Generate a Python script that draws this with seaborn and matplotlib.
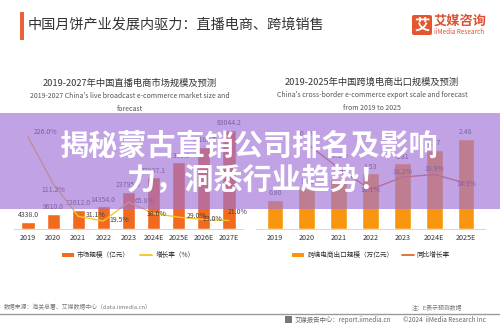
import numpy as np
import pandas as pd
import matplotlib
matplotlib.use("Agg")
import matplotlib.pyplot as plt
import seaborn as sns
from matplotlib.patches import Rectangle, FancyBboxPatch, Patch
from matplotlib.lines import Line2D

sns.set_theme(style="white")
plt.rcParams['font.family'] = ['Noto Sans CJK SC', 'DejaVu Sans']

# ---------------- data ----------------
live_years = ["2019", "2020", "2021", "2022", "2023", "2024E", "2025E", "2026E", "2027E"]
live_size = [4338.0, 9610.0, 12012.0, 14354.0, 23795.0, 32837.1, 42359.9, 52102.7, 63044.2]
live_growth = [226.0, 111.2, 31.1, 19.5, 65.8, 38.0, 29.0, 23.0, 21.0]

cb_years = ["2019", "2020", "2021", "2022", "2023", "2024E", "2025E"]
cb_size = [0.80, 1.12, 1.39, 1.53, 1.81, 2.17, 2.48]
cb_growth = [np.nan, 40.1, 24.1, 10.1, 18.2, 19.9, 14.3]

header_title = "中国月饼产业发展内驱力：直播电商、跨境销售"
left_title = "2019-2027年中国直播电商市场规模及预测"
left_sub = ["2019-2027 China's live broadcast e-commerce market size and", "forecast"]
right_title = "2019-2025年中国跨境电商出口规模及预测"
right_sub = ["China's cross-border e-commerce export scale and forecast", "from 2019 to 2025"]
left_legend = ["市场规模（亿元）", "增长率（%）"]
right_legend = ["跨境电商出口规模（万亿元）", "同比增长率"]
banner = ["揭秘蒙古直销公司排名及影响", "力，洞悉行业趋势！"]

# ---------------- styles ----------------
W, H = 500, 325
LEFT_BAR = "#F26A1E"
LEFT_LINE = "#F6C52A"
RIGHT_BAR = "#F8970F"
RIGHT_LINE = "#DD6A2C"
TXT = "#333333"

def fx(px):
    return px / W

def fy(py):
    return 1 - py / H

fig = plt.figure(figsize=(5, 3.25), dpi=100)
fig.patch.set_facecolor("white")

def style_axis(ax):
    for s in ["top", "right", "left"]:
        ax.spines[s].set_visible(False)
    ax.spines["bottom"].set_color("#D6D6D6")
    ax.spines["bottom"].set_linewidth(0.7)
    ax.set_yticks([])
    ax.set_xlabel("")
    ax.set_ylabel("")
    ax.tick_params(axis="x", length=0, pad=3.5, labelsize=5.2, labelcolor=TXT)
    ax.set_facecolor("none")

# ---------------- left chart ----------------
sp = 25.125
ax1 = fig.add_axes([fx(28 - 0.55 * sp), fy(229), fx(8 * sp + 1.1 * sp), 110 / H])
df1 = pd.DataFrame({"year": live_years, "size": live_size, "growth": live_growth})
sns.barplot(data=df1, x="year", y="size", color=LEFT_BAR, width=0.52, ax=ax1,
            saturation=1, zorder=2)
ax1.set_ylim(0, 70000)
ax1.set_xlim(-0.55, 8.55)
style_axis(ax1)
for c in ax1.containers:
    ax1.bar_label(c, labels=[f"{v:.1f}" for v in live_size], padding=2,
                  fontsize=5, color="#444444")

ax1b = ax1.twinx()
sns.lineplot(x=np.arange(len(live_years)), y=live_growth, ax=ax1b, color=LEFT_LINE,
             linewidth=1.0, zorder=3)
ax1b.set_ylim(0, 270)
ax1b.set_xlim(-0.55, 8.55)
for s in ax1b.spines.values():
    s.set_visible(False)
ax1b.set_yticks([])
left_offsets = [(18, 5), (0, -6), (17, 1), (16, 1), (16, 1), (3, 0), (18, 1), (9, 1), (9, 8)]
for i, (v, (dx, dy)) in enumerate(zip(live_growth, left_offsets)):
    ax1b.annotate(f"{v:.1f}%", (i, v), xytext=(dx * 0.72, dy * 0.72), textcoords="offset points",
                  ha="center", va="center", fontsize=5, color="#444444")

# ---------------- right chart ----------------
sp2 = 31.83
ax2 = fig.add_axes([fx(275 - 0.6 * sp2), fy(229), fx(6 * sp2 + 1.2 * sp2), 101.6 / H])
df2 = pd.DataFrame({"year": cb_years, "size": cb_size, "growth": cb_growth})
sns.barplot(data=df2, x="year", y="size", color=RIGHT_BAR, width=0.53, ax=ax2,
            saturation=1, zorder=2)
ax2.set_ylim(0, 2.8)
ax2.set_xlim(-0.6, 6.6)
style_axis(ax2)
for c in ax2.containers:
    ax2.bar_label(c, labels=[f"{v:.2f}" for v in cb_size], padding=2,
                  fontsize=5, color="#444444")

ax2b = ax2.twinx()
sns.lineplot(x=np.arange(len(cb_years)), y=cb_growth, ax=ax2b, color=RIGHT_LINE,
             linewidth=1.0, zorder=3)
ax2b.set_ylim(-15.7, 50.7)
ax2b.set_xlim(-0.6, 6.6)
for s in ax2b.spines.values():
    s.set_visible(False)
ax2b.set_yticks([])
right_offsets = [(0, 0), (0, 10), (0, 12), (0, 0), (0, 5), (0, 6), (0, -1)]
for i, (v, (dx, dy)) in enumerate(zip(cb_growth, right_offsets)):
    if np.isnan(v):
        continue
    ax2b.annotate(f"{v:.1f}%", (i, v), xytext=(dx * 0.72, dy * 0.72), textcoords="offset points",
                  ha="center", va="center", fontsize=5, color="#444444")

# ---------------- legends ----------------
h1 = [Patch(facecolor=LEFT_BAR, edgecolor="none"), Line2D([0], [0], color=LEFT_LINE, lw=1.3)]
fig.legend(h1, left_legend, loc="center", bbox_to_anchor=(fx(128), fy(255)), ncol=2,
           frameon=False, fontsize=4.8, handlelength=1.8, handleheight=0.6,
           handletextpad=0.5, columnspacing=1.5, labelcolor=TXT)
h2 = [Patch(facecolor=RIGHT_BAR, edgecolor="none"), Line2D([0], [0], color=RIGHT_LINE, lw=1.3)]
fig.legend(h2, right_legend, loc="center", bbox_to_anchor=(fx(371), fy(255)), ncol=2,
           frameon=False, fontsize=4.8, handlelength=1.8, handleheight=0.6,
           handletextpad=0.5, columnspacing=1.2, labelcolor=TXT)

# ---------------- titles ----------------
fig.add_artist(Rectangle((fx(20), fy(40)), fx(3.5), 28 / H, transform=fig.transFigure,
                         facecolor="#E8633B", edgecolor="none"))
fig.text(fx(28), fy(25), header_title, fontsize=10.2, color=TXT, va="center", ha="left")

fig.add_artist(FancyBboxPatch((fx(412), fy(35)), fx(20), 20 / H, transform=fig.transFigure,
                              boxstyle="round,pad=0,rounding_size=0.005",
                              facecolor="#E4572E", edgecolor="none"))
fig.text(fx(422), fy(25), "艾", fontsize=11, color="white", weight="bold", ha="center", va="center")
fig.text(fx(434), fy(20.5), "艾媒咨询", fontsize=9.5, color="#DC5233", weight="bold",
         ha="left", va="center")
fig.text(fx(434), fy(32), "iiMedia Research", fontsize=4.6, color="#DC5233",
         ha="left", va="center")

fig.text(fx(130), fy(83), left_title, fontsize=6.7, color=TXT, ha="center", va="center")
fig.text(fx(130), fy(96), left_sub[0], fontsize=5, color="#555555", ha="center", va="center")
fig.text(fx(130), fy(109), left_sub[1], fontsize=5, color="#555555", ha="center", va="center")
fig.text(fx(372), fy(82), right_title, fontsize=6.7, color=TXT, ha="center", va="center")
fig.text(fx(372), fy(95), right_sub[0], fontsize=5, color="#555555", ha="center", va="center")
fig.text(fx(372), fy(108), right_sub[1], fontsize=5, color="#555555", ha="center", va="center")

# ---------------- footer ----------------
fig.text(fx(4), fy(307), "数据来源：海关总署、艾媒数据中心（data.iimedia.cn）", fontsize=4.2,
         color="#777777", ha="left", va="center")
fig.text(fx(412), fy(307), "注：E表示预测数据", fontsize=4.2, color="#777777", ha="left", va="center")
fig.add_artist(Line2D([0, 1], [fy(313.5), fy(313.5)], transform=fig.transFigure,
                      color="#9A9A9A", lw=1.0))
fig.text(fx(295), fy(319.5), "艾媒报告中心：report.iimedia.cn", fontsize=4.6,
         color="#666666", ha="left", va="center")
fig.text(fx(403), fy(319.5), "©2024  iiMedia Research Inc", fontsize=4.6,
         color="#666666", ha="left", va="center")
fig.add_artist(Rectangle((fx(285), fy(323)), fx(7), 7 / H, transform=fig.transFigure,
                         facecolor="#777777", edgecolor="none"))

# ---------------- banner overlay ----------------
fig.add_artist(Rectangle((0, fy(209)), 1, (209 - 113) / H, transform=fig.transFigure,
                         facecolor="#A070D8", alpha=0.65, edgecolor="none", zorder=10))
t1 = fig.text(fx(249), fy(146), banner[0], fontsize=21, weight="heavy", color="white",
              ha="center", va="center", zorder=11)
t2 = fig.text(fx(127), fy(180), banner[1], fontsize=21, weight="heavy", color="white",
              ha="left", va="center", zorder=11)

fig.savefig("out.png", dpi=100)
